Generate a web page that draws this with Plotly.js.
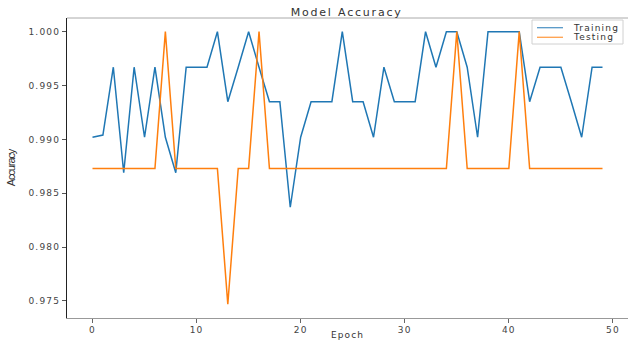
<!DOCTYPE html>
<html>
<head>
<meta charset="utf-8">
<script src="https://cdn.plot.ly/plotly-3.0.1.min.js"></script>
<style>
  html, body { margin: 0; padding: 0; background: #fff; }
  #chart { width: 628px; height: 340px; }
  .xtick text, .ytick text { letter-spacing: 1.2px; }
  text.gtitle { letter-spacing: 1.8px; }
  text.xtitle { letter-spacing: 1.1px; }
  text.ytitle { letter-spacing: -1.1px; }
  text.annotation-text { letter-spacing: 1.2px; }
</style>
</head>
<body>
<div id="chart"></div>
<script>
// Data
const epochs = [0,1,2,3,4,5,6,7,8,9,10,11,12,13,14,15,16,17,18,19,20,21,22,23,24,25,26,27,28,29,30,31,32,33,34,35,36,37,38,39,40,41,42,43,44,45,46,47,48,49];
const trainingAcc = [
  0.9902, 0.9904, 0.9967, 0.9869, 0.9967, 0.9902, 0.9967, 0.9902, 0.9869, 0.9967,
  0.9967, 0.9967, 1.0000, 0.9935, 0.9967, 1.0000, 0.9967, 0.9935, 0.9935, 0.9837,
  0.9902, 0.9935, 0.9935, 0.9935, 1.0000, 0.9935, 0.9935, 0.9902, 0.9967, 0.9935,
  0.9935, 0.9935, 1.0000, 0.9967, 1.0000, 1.0000, 0.9967, 0.9902, 1.0000, 1.0000,
  1.0000, 1.0000, 0.9935, 0.9967, 0.9967, 0.9967, 0.9935, 0.9902, 0.9967, 0.9967
];
const testingAcc = [
  0.9873, 0.9873, 0.9873, 0.9873, 0.9873, 0.9873, 0.9873, 1.0000, 0.9873, 0.9873,
  0.9873, 0.9873, 0.9873, 0.9747, 0.9873, 0.9873, 1.0000, 0.9873, 0.9873, 0.9873,
  0.9873, 0.9873, 0.9873, 0.9873, 0.9873, 0.9873, 0.9873, 0.9873, 0.9873, 0.9873,
  0.9873, 0.9873, 0.9873, 0.9873, 0.9873, 1.0000, 0.9873, 0.9873, 0.9873, 0.9873,
  0.9873, 1.0000, 0.9873, 0.9873, 0.9873, 0.9873, 0.9873, 0.9873, 0.9873, 0.9873
];
const xTickVals = [0, 10, 20, 30, 40, 50];
const yTickVals = [0.975, 0.980, 0.985, 0.990, 0.995, 1.000];
const seriesNames = ['Training', 'Testing'];
const seriesColors = ['#1f77b4', '#ff7f0e'];
const titleText = 'Model Accuracy';
const xTitle = 'Epoch';
const yTitle = 'Accuracy';

const tickFont = { family: 'DejaVu Sans, sans-serif', size: 9, color: '#444' };

const traces = [
  { x: epochs, y: trainingAcc, name: seriesNames[0], type: 'scatter', mode: 'lines',
    line: { color: seriesColors[0], width: 1.5 } },
  { x: epochs, y: testingAcc, name: seriesNames[1], type: 'scatter', mode: 'lines',
    line: { color: seriesColors[1], width: 1.5 } }
];

// Compact legend (matplotlib style) built from shapes + annotations
const legBox = { x0: 0.8289, x1: 0.9911, y0: 0.9133, y1: 0.9933 };
const legRowsY = [0.9677, 0.9357];
const legShapes = [
  { type: 'rect', xref: 'paper', yref: 'paper', x0: legBox.x0, x1: legBox.x1, y0: legBox.y0, y1: legBox.y1,
    fillcolor: 'rgba(255,255,255,0.85)', line: { color: '#d0d0d0', width: 1 }, layer: 'above' }
];
const legAnnots = [];
seriesNames.forEach((name, i) => {
  legShapes.push({ type: 'line', xref: 'paper', yref: 'paper', x0: 0.8378, x1: 0.8841,
    y0: legRowsY[i], y1: legRowsY[i], line: { color: seriesColors[i], width: 1.3 }, opacity: 0.75, layer: 'above' });
  legAnnots.push({ xref: 'paper', yref: 'paper', x: 0.8984, y: legRowsY[i], xanchor: 'left', yanchor: 'middle',
    text: name, showarrow: false, font: { family: 'DejaVu Sans, sans-serif', size: 9, color: '#333' } });
});

const layout = {
  width: 628, height: 340,
  margin: { l: 67, r: 0, t: 18, b: 22, pad: 0 },
  paper_bgcolor: '#fff', plot_bgcolor: '#fff',
  title: { text: titleText, x: 0.552, xanchor: 'center', y: 0.965, yanchor: 'middle',
           font: { family: 'DejaVu Sans, sans-serif', size: 11, color: '#333' } },
  xaxis: {
    range: [-2.45, 51.45], tickvals: xTickVals, ticks: 'outside', ticklen: 3.5, tickwidth: 1,
    tickcolor: '#666', showline: true, linecolor: '#999', linewidth: 1,
    showgrid: false, zeroline: false, tickfont: tickFont, automargin: false,
    title: { text: xTitle, standoff: 2, font: { family: 'DejaVu Sans, sans-serif', size: 9, color: '#333' } }
  },
  yaxis: {
    range: [0.97342, 1.00127], tickvals: yTickVals, tickformat: '.3f', ticks: 'outside',
    ticklen: 4, tickwidth: 1, tickcolor: '#555', showline: true, linecolor: '#222', linewidth: 1,
    showgrid: false, zeroline: false, tickfont: tickFont, automargin: false,
    title: { text: yTitle, standoff: 10,
             font: { family: 'Liberation Sans, sans-serif', size: 11, color: '#333' } }
  },
  shapes: [
    { type: 'line', xref: 'paper', yref: 'paper', x0: 0, x1: 1, y0: 1, y1: 1,
      line: { color: '#aaa', width: 1 } }
  ].concat(legShapes),
  annotations: legAnnots,
  showlegend: false
};

Plotly.newPlot('chart', traces, layout, { displayModeBar: false, staticPlot: true });
</script>
</body>
</html>
